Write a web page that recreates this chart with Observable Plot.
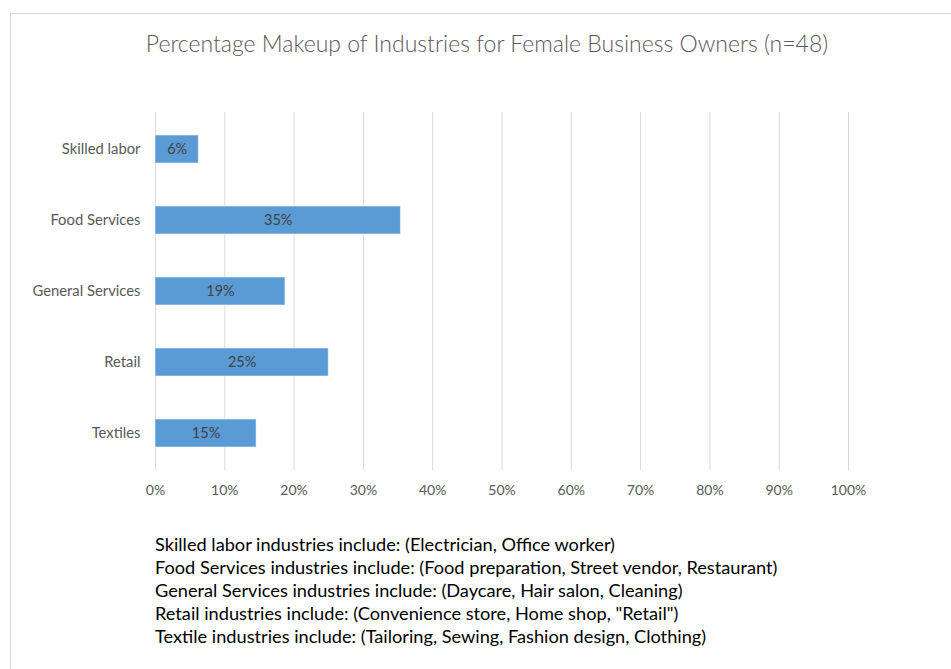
<!DOCTYPE html>
<html>
<head>
<meta charset="utf-8">
<script src="https://cdn.jsdelivr.net/npm/d3@7"></script>
<script src="https://cdn.jsdelivr.net/npm/@observablehq/plot@0.6"></script>
<style>
  html, body { margin: 0; padding: 0; background: #fff; overflow: hidden; width: 951px; height: 669px; }
  #frame { position: absolute; left: 10px; top: 13px; width: 1000px; height: 700px; border: 1px solid #d9d9d9; box-sizing: border-box; }
  #title { position: absolute; left: 0; width: 974px; top: 29px; text-align: center; font-family: Lato, "Liberation Sans", sans-serif; font-weight: 300; font-size: 23px; color: #595959; white-space: nowrap; }
  #chart { position: absolute; left: 0; top: 90px; }
  #notes { position: absolute; left: 155px; top: 533px; font-family: Lato, "Liberation Sans", sans-serif; font-size: 18.2px; line-height: 23px; color: #000; white-space: nowrap; }
</style>
</head>
<body>
<div id="frame"></div>
<div id="title">Percentage Makeup of Industries for Female Business Owners (n=48)</div>
<div id="chart"></div>
<div id="notes"></div>
<script>
const categories = ["Skilled labor", "Food Services", "General Services", "Retail", "Textiles"];
const counts = [3, 17, 9, 12, 7];
const total = 48;
const valueLabels = ["6%", "35%", "19%", "25%", "15%"];
const xTicks = [0, 0.1, 0.2, 0.3, 0.4, 0.5, 0.6, 0.7, 0.8, 0.9, 1.0];
const noteLines = [
  "Skilled labor industries include: (Electrician, Office worker)",
  "Food Services industries include: (Food preparation, Street vendor, Restaurant)",
  "General Services industries include: (Daycare, Hair salon, Cleaning)",
  "Retail industries include: (Convenience store, Home shop, \"Retail\")",
  "Textile industries include: (Tailoring, Sewing, Fashion design, Clothing)"
];

const data = categories.map((c, i) => ({category: c, value: counts[i] / total, label: valueLabels[i]}));

const chart = Plot.plot({
  width: 951,
  height: 420,
  marginLeft: 155,
  marginRight: 103,
  marginTop: 22,
  marginBottom: 40,
  style: {fontFamily: "Lato, 'Liberation Sans', sans-serif", fontSize: "14px", color: "#595959", background: "transparent"},
  x: {domain: [0, 1], ticks: xTicks, tickFormat: d3.format(".0%")},
  y: {domain: categories, paddingInner: 0.6, paddingOuter: 0.3},
  marks: [
    Plot.gridX(xTicks, {stroke: "#d9d9d9", strokeOpacity: 1, strokeWidth: 1}),
    Plot.barX(data, {x: "value", y: "category", fill: "#5b9bd5", stroke: "#ffffff", strokeOpacity: 0.5, strokeWidth: 1}),
    Plot.text(data, {x: d => d.value / 2, y: "category", text: "label", fill: "#404040", fontSize: 14.5}),
    Plot.axisX(xTicks, {tickSize: 0, tickPadding: 15, fill: "#595959", fontSize: 14, label: null, tickFormat: d3.format(".0%")}),
    Plot.axisY(categories, {tickSize: 0, tickPadding: 15, fill: "#595959", fontSize: 14.8, label: null})
  ]
});
document.getElementById("chart").appendChild(chart);

const notes = document.getElementById("notes");
noteLines.forEach(t => { const d = document.createElement("div"); d.textContent = t; notes.appendChild(d); });
</script>
</body>
</html>
